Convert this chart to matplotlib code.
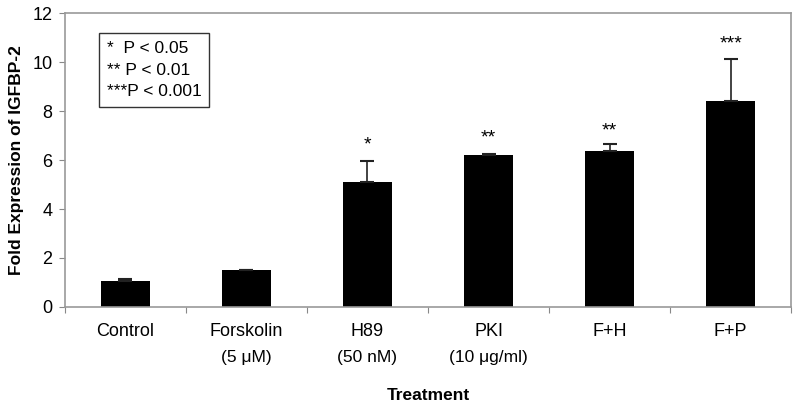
import matplotlib.pyplot as plt

plt.rcParams['font.family'] = ['Liberation Sans', 'DejaVu Sans']

# Data
treatments = ['Control', 'Forskolin', 'H89', 'PKI', 'F+H', 'F+P']
doses = ['', '(5 \u03bcM)', '(50 nM)', '(10 \u03bcg/ml)', '', '']
fold = [1.08, 1.5, 5.1, 6.22, 6.38, 8.42]
err = [0.05, 0.0, 0.88, 0.03, 0.27, 1.7]
stars = ['', '', '*', '**', '**', '***']
star_y = [0, 0, 6.6, 6.9, 7.2, 10.75]

fig = plt.figure(figsize=(8, 4.12), dpi=100)
ax = fig.add_axes([0.081, 0.255, 0.908, 0.713])

x = range(len(treatments))
ax.bar(x, fold, width=0.41, color='black', zorder=2)
ax.errorbar(x, fold, yerr=[[0] * len(err), err], fmt='none', ecolor='#222222',
            elinewidth=1.2, capsize=5, capthick=1.5, zorder=3)

for i, s in enumerate(stars):
    if s:
        ax.text(i, star_y[i], s, ha='center', va='center', fontsize=14)

ax.set_xlim(-0.5, len(treatments) - 0.5)
ax.set_ylim(0, 12)
ax.set_yticks(range(0, 13, 2))
ax.tick_params(axis='y', labelsize=13, length=4, color='#888888', pad=5)

# category labels with a second line for the dose
ax.set_xticks([i - 0.5 for i in range(len(treatments) + 1)])
ax.set_xticklabels([])
ax.tick_params(axis='x', length=4, color='#888888', direction='out')
for i, (t, d) in enumerate(zip(treatments, doses)):
    ax.text(i, -1.0, t, ha='center', va='center', fontsize=13)
    if d:
        ax.text(i, -2.05, d, ha='center', va='center', fontsize=12.5)

for sp in ax.spines.values():
    sp.set_color('#999999')
    sp.set_linewidth(1.2)

ax.set_ylabel('Fold Expression of IGFBP-2', fontsize=12.5, fontweight='bold', labelpad=6)
ax.text(2.5, -3.6, 'Treatment', ha='center', va='center', fontsize=12.5, fontweight='bold')

ax.text(0.058, 0.905, '*  P < 0.05\n** P < 0.01\n***P < 0.001', transform=ax.transAxes,
        ha='left', va='top', fontsize=12.5, linespacing=1.55,
        bbox=dict(boxstyle='square,pad=0.45', facecolor='white', edgecolor='#333333'))

fig.savefig('out.png')
